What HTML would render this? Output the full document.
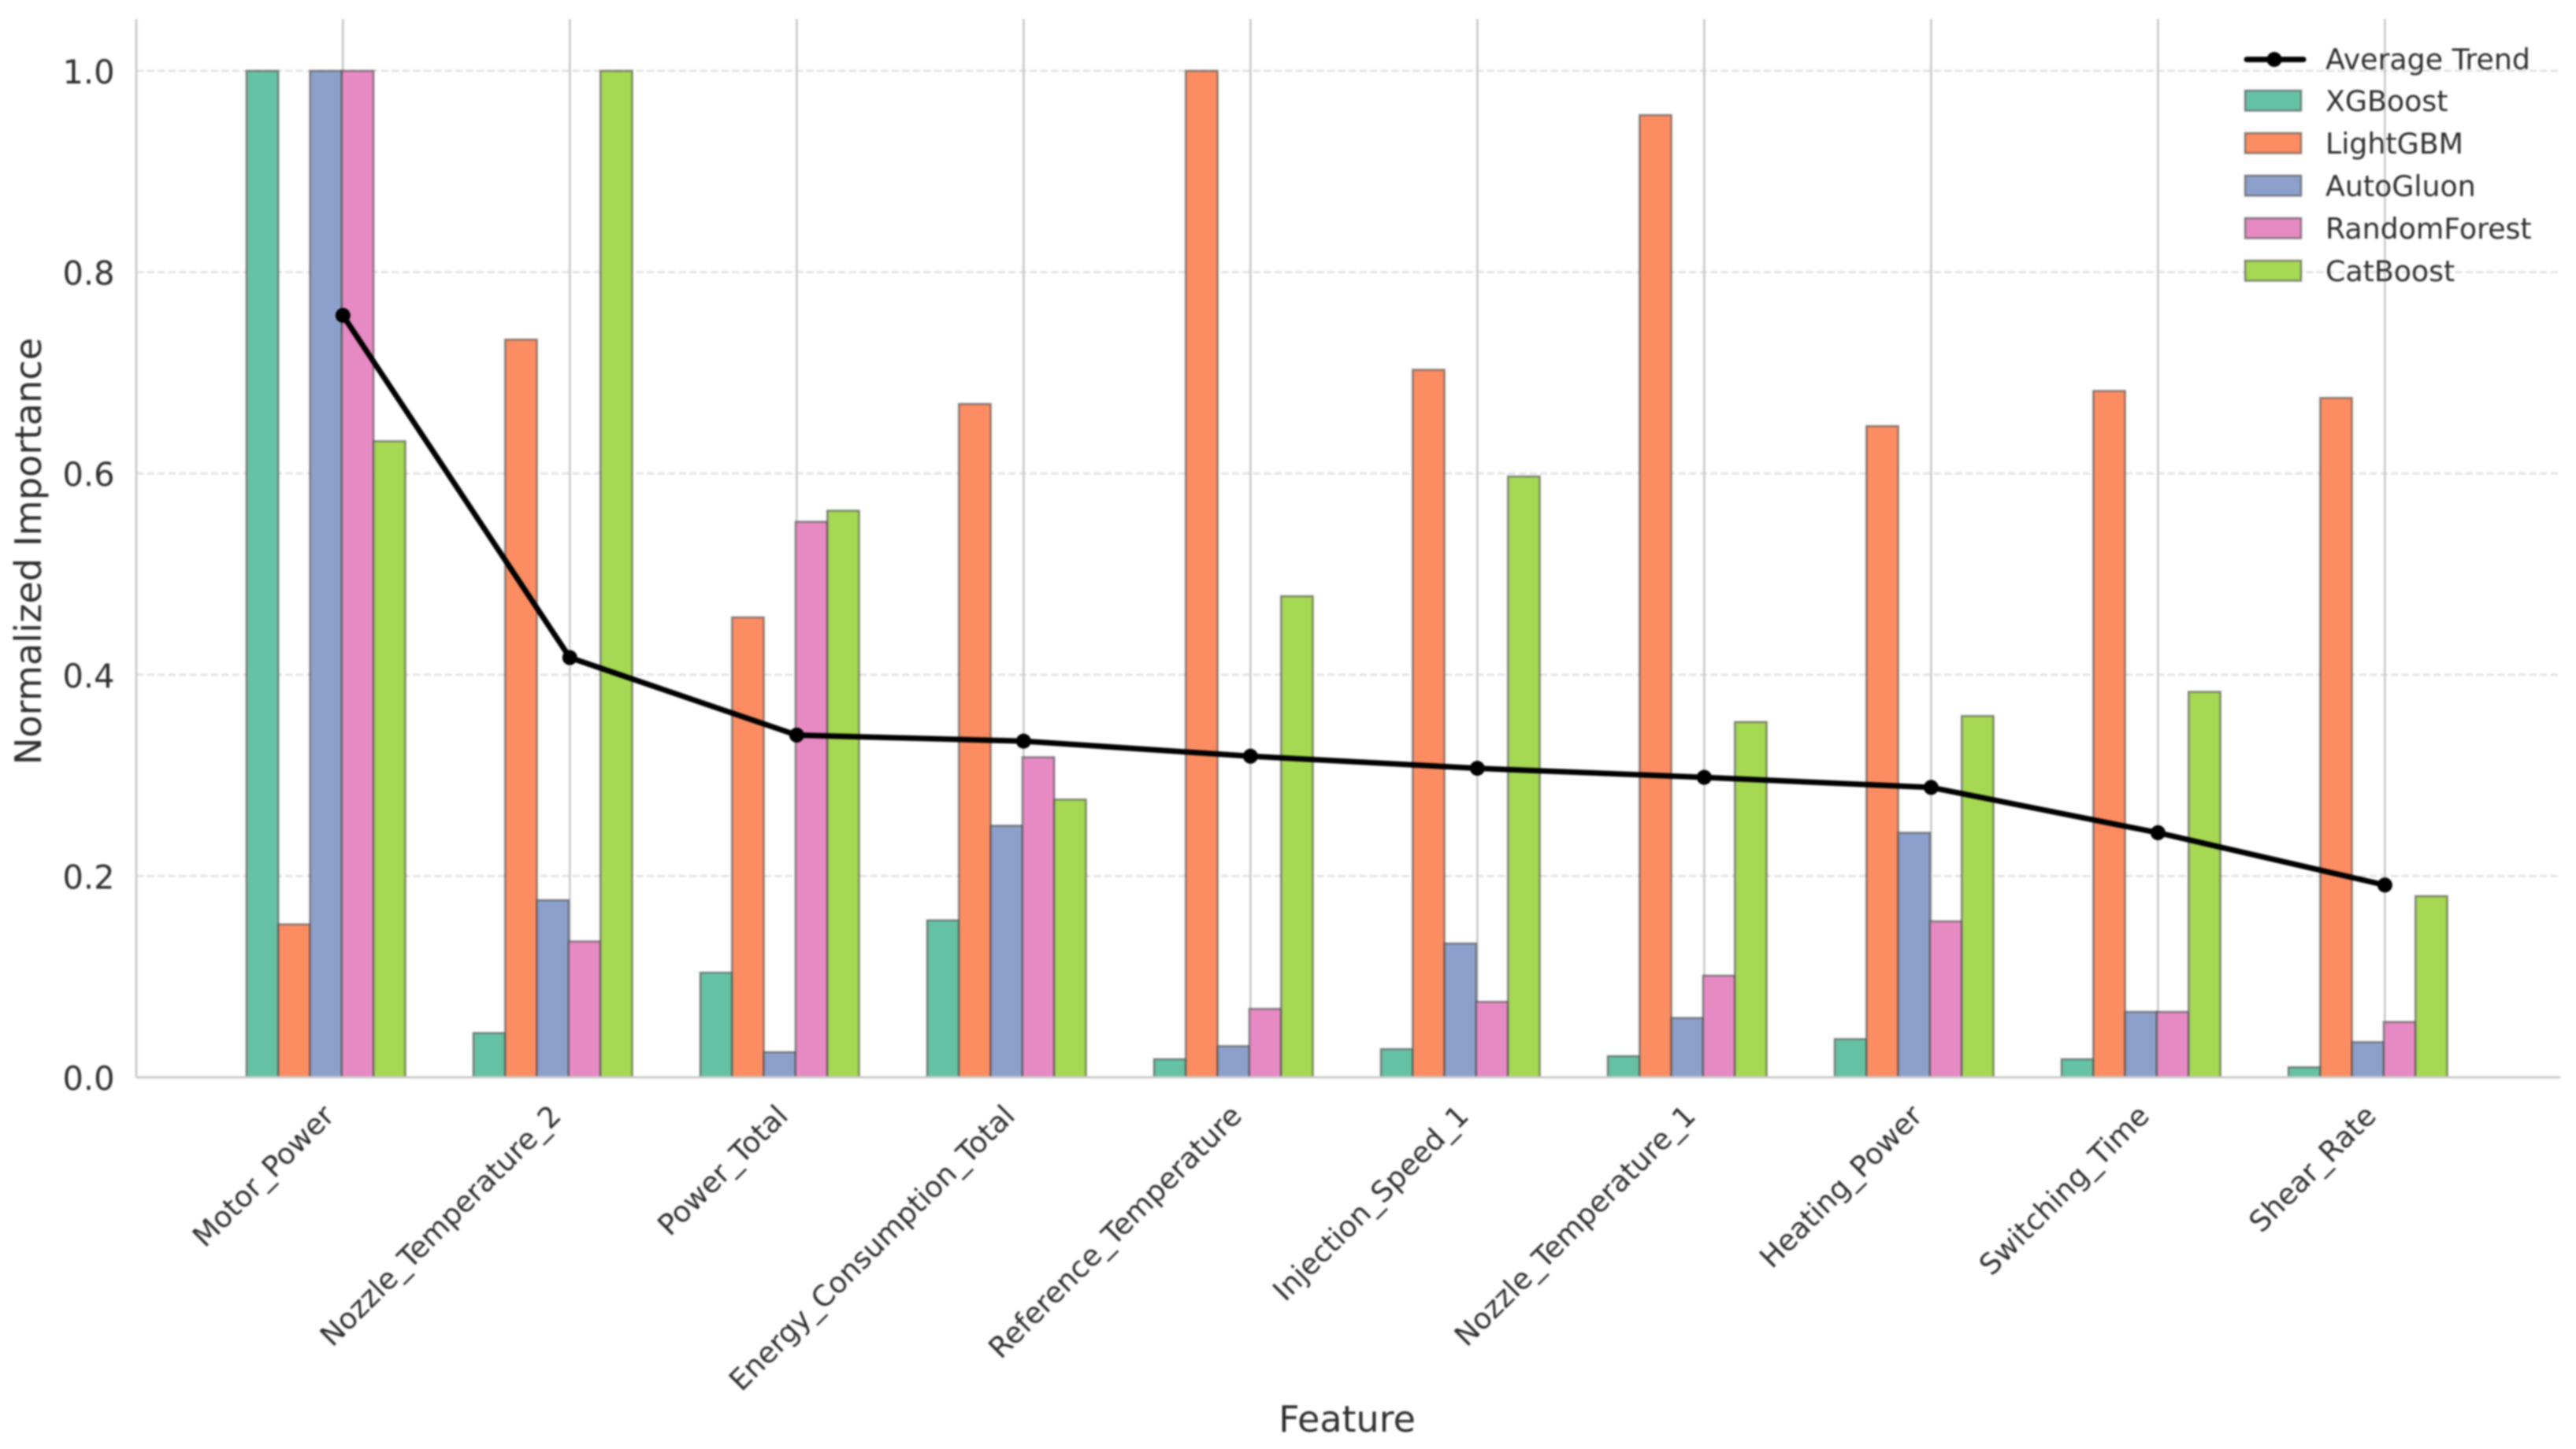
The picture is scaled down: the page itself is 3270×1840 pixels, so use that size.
<!DOCTYPE html>
<html lang="en">
<head>
<meta charset="utf-8">
<title>Normalized Feature Importance</title>
<style>
html,body{margin:0;padding:0;background:#fff;width:3270px;height:1840px;overflow:hidden}
#chart{display:block;filter:blur(1px)}
text{font-family:"DejaVu Sans","Liberation Sans",sans-serif;fill:#2e2e2e}
</style>
</head>
<body>
<svg id="chart" xmlns="http://www.w3.org/2000/svg" width="3270" height="1840" viewBox="0 0 3270 1840"></svg>
<script>
const categories = ["Motor_Power","Nozzle_Temperature_2","Power_Total","Energy_Consumption_Total","Reference_Temperature","Injection_Speed_1","Nozzle_Temperature_1","Heating_Power","Switching_Time","Shear_Rate"];
const xgboost      = [1.000,0.044,0.104,0.156,0.018,0.028,0.021,0.038,0.018,0.010];
const lightgbm     = [0.152,0.733,0.457,0.669,1.000,0.703,0.956,0.647,0.682,0.675];
const autogluon    = [1.000,0.176,0.025,0.250,0.031,0.133,0.059,0.243,0.065,0.035];
const randomForest = [1.000,0.135,0.552,0.318,0.068,0.075,0.101,0.155,0.065,0.055];
const catboost     = [0.632,1.000,0.563,0.276,0.478,0.597,0.353,0.359,0.383,0.180];
const averageTrend = [0.757,0.417,0.340,0.334,0.319,0.307,0.298,0.288,0.243,0.191];
const yTicks = [0,0.2,0.4,0.6,0.8,1.0];
const yTickLabels = ["0.0","0.2","0.4","0.6","0.8","1.0"];
const seriesNames = ["XGBoost","LightGBM","AutoGluon","RandomForest","CatBoost"];
const seriesValues = [xgboost,lightgbm,autogluon,randomForest,catboost];
const seriesColors = ["#66c2a5","#fc8d62","#8da0cb","#e78ac3","#a6d854"];

const plotLeft = 173, plotRight = 3250, plotTop = 24, plotBottom = 1368;
const xMin = -0.9108, xMax = 9.773, yMin = 0, yMax = 1.0516;
const barWidth = 0.14;
const barShift = -0.005;
function xScale(v){ return plotLeft + (v - xMin) / (xMax - xMin) * (plotRight - plotLeft); }
function yScale(v){ return plotBottom - (v - yMin) / (yMax - yMin) * (plotBottom - plotTop); }

const svg = document.getElementById('chart');
const NS = 'http://www.w3.org/2000/svg';
function make(tag, attrs, parent, txt){
  const el = document.createElementNS(NS, tag);
  for (const k in attrs) el.setAttribute(k, attrs[k]);
  if (txt !== undefined) el.textContent = txt;
  (parent || svg).appendChild(el);
  return el;
}
function slug(s){ return s.toLowerCase().replace(/_/g,'-'); }

make('rect',{x:0,y:0,width:3270,height:1840,fill:'#fff'});

// horizontal grid
yTicks.forEach(function(t, i){
  const g = make('line',{x1:plotLeft,x2:plotRight,y1:yScale(t),y2:yScale(t),stroke:'#e2e2e2','stroke-width':2.6,'stroke-dasharray':'9.5 4'});
  
  
});
// vertical grid
categories.forEach(function(c, i){
  const g = make('line',{x1:xScale(i),x2:xScale(i),y1:plotTop,y2:plotBottom,stroke:'#c8c8c8','stroke-width':2.6});
  
  
});
// spines
const spineLeft = make('line',{x1:plotLeft,x2:plotLeft,y1:plotTop,y2:plotBottom,stroke:'#cccccc','stroke-width':3});



// bars
seriesValues.forEach(function(vals, j){
  const group = make('g',{});
  
  
  vals.forEach(function(v, i){
    const x0 = xScale(i + (j - 3) * barWidth + barShift);
    const x1 = xScale(i + (j - 2) * barWidth + barShift);
    const r = make('rect',{x:x0,y:yScale(v),width:x1-x0,height:yScale(0)-yScale(v),fill:seriesColors[j],stroke:'#4a4a4a','stroke-opacity':0.6,'stroke-width':2.6}, group);
    
    
  });
});

const spineBottom = make('line',{x1:plotLeft,x2:plotRight,y1:plotBottom,y2:plotBottom,stroke:'#cccccc','stroke-width':3});



// trend
const trend = make('polyline',{points:averageTrend.map(function(v,i){return xScale(i)+','+yScale(v);}).join(' '),fill:'none',stroke:'#000','stroke-width':7,'stroke-linejoin':'round'});


averageTrend.forEach(function(v,i){
  const p = make('circle',{cx:xScale(i),cy:yScale(v),r:9.5,fill:'#000'});
  
  
});

// y tick labels
yTicks.forEach(function(t,i){
  const l = make('text',{x:145.5,y:yScale(t)+16,'text-anchor':'end','font-size':41.5},null,yTickLabels[i]);
  
  
});
// x tick labels
categories.forEach(function(c,i){
  const ax = xScale(i) - 9, ay = 1419;
  const l = make('text',{x:ax,y:ay,'text-anchor':'end','font-size':36.7,transform:'rotate(-45 '+ax+' '+ay+')'},null,c);
  
  
});
// axis titles
const xTitle = make('text',{x:1710,y:1818,'text-anchor':'middle','font-size':46},null,'Feature');


const yTitle = make('text',{x:52,y:700,'text-anchor':'middle','font-size':46.3,transform:'rotate(-90 52 700)'},null,'Normalized Importance');



// legend
const legend = make('g',{});


const legendLine = make('line',{x1:2852,x2:2924,y1:75.5,y2:75.5,stroke:'#000','stroke-width':7,'stroke-linecap':'round'},legend);


const legendDot = make('circle',{cx:2887,cy:75.5,r:9.5,fill:'#000'},legend);


const legendTrendText = make('text',{x:2952,y:88,'font-size':36.3},legend,'Average Trend');


seriesNames.forEach(function(n,j){
  const base = 141 + j * 54;
  const s = make('rect',{x:2850,y:base-26,width:71,height:25.5,fill:seriesColors[j],stroke:'#4a4a4a','stroke-opacity':0.6,'stroke-width':2.6},legend);
  
  
  const t = make('text',{x:2952,y:base,'font-size':36.3},legend,n);
  
  
});
</script>
</body>
</html>
